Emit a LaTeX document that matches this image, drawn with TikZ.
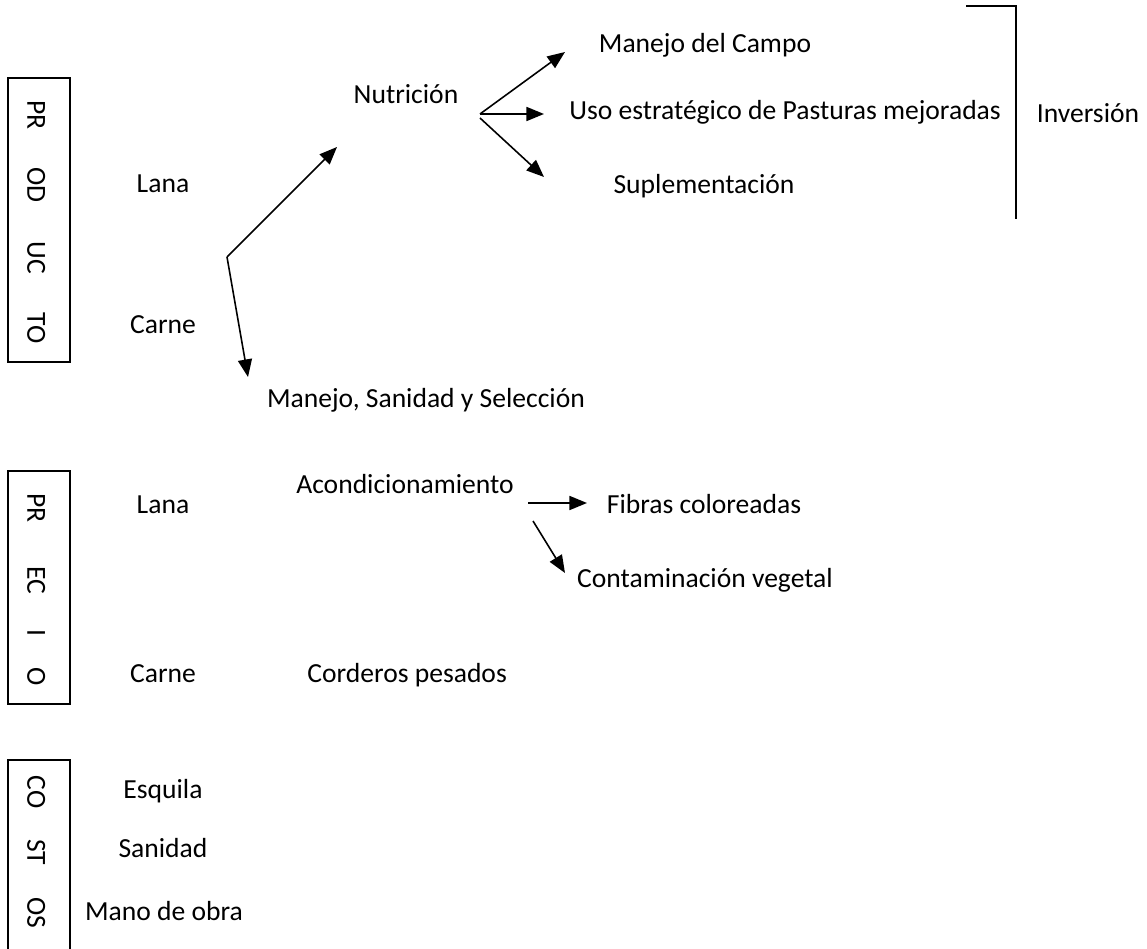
\documentclass[tikz,border=0pt]{standalone}
\usepackage{fontspec}
\setmainfont{Carlito}
\usetikzlibrary{arrows.meta}
\tikzstyle{txt}=[inner sep=0pt, text height=0.63em, text depth=0pt, font=\fontsize{15.7}{18}\selectfont]
\tikzstyle{vtxt}=[txt, rotate=-90]
\tikzstyle{arr}=[line width=0.9pt, -{Triangle[length=10pt,width=8pt]}]
\tikzstyle{frame}=[line width=1.2pt]

\begin{document}
\begin{tikzpicture}[x=0.02cm,y=-0.02cm]
\useasboundingbox (0,0) rectangle (1147,949);

\draw[frame] (8,78) rectangle (70,362);
\node (pr1) [vtxt] at (33,115) {PR};
\node (od1) [vtxt] at (33,185) {OD};
\node (uc1) [vtxt] at (33,258) {UC};
\node (to1) [vtxt] at (33,328) {TO};

\node (lana1) [txt] at (163,187) {Lana};
\node (carne1) [txt] at (163,328) {Carne};
\node (nutr) [txt] at (406,98) {Nutrición};
\node (mss) [txt] at (426,402) {Manejo, Sanidad y Selección};
\node (campo) [txt] at (705,47) {Manejo del Campo};
\node (uso) [txt] at (785,114) {Uso estratégico de Pasturas mejoradas};
\node (supl) [txt] at (704,188) {Suplementación};
\node (inv) [txt] at (1088,117) {Inversión};

\coordinate (v1) at (227,257);
\coordinate (t1) at (337,147);
\coordinate (t2) at (248,377);
\coordinate (v2) at (480,114);
\coordinate (v3) at (480,118);
\coordinate (t3) at (565,52);
\coordinate (t4) at (544,114);
\coordinate (t5) at (544,177);

\draw[arr] (v1) -- (t1);
\draw[arr] (v1) -- (t2);
\draw[arr] (v2) -- (t3);
\draw[arr] (v2) -- (t4);
\draw[arr] (v3) -- (t5);

\coordinate (b1) at (966,6);
\coordinate (b2) at (1016,6);
\coordinate (b3) at (1016,219);
\draw[frame] (b1) -- (b2) -- (b3);

\draw[frame] (8,471) rectangle (70,704);
\node (pr2) [vtxt] at (33,508) {PR};
\node (ec2) [vtxt] at (33,580) {EC};
\node (i2) [vtxt] at (33,633) {I};
\node (o2) [vtxt] at (33,677) {O};

\node (lana2) [txt] at (163,508) {Lana};
\node (carne2) [txt] at (163,677) {Carne};
\node (acond) [txt] at (405,488) {Acondicionamiento};
\node (fibras) [txt] at (704,508) {Fibras coloreadas};
\node (cont) [txt] at (705,582) {Contaminación vegetal};
\node (cord) [txt,anchor=west] at (307,677) {Corderos pesados};

\coordinate (v4) at (528,503);
\coordinate (t6) at (587,503);
\coordinate (v5) at (533,521);
\coordinate (t7) at (565,573);
\draw[arr] (v4) -- (t6);
\draw[arr] (v5) -- (t7);

\draw[frame] (8,949) -- (8,760) -- (70,760) -- (70,949);
\node (co3) [vtxt] at (33,792) {CO};
\node (st3) [vtxt] at (33,852) {ST};
\node (os3) [vtxt] at (33,913) {OS};

\node (esq) [txt] at (163,793) {Esquila};
\node (san) [txt] at (163,852) {Sanidad};
\node (mano) [txt] at (164,915) {Mano de obra};

\end{tikzpicture}
\end{document}
